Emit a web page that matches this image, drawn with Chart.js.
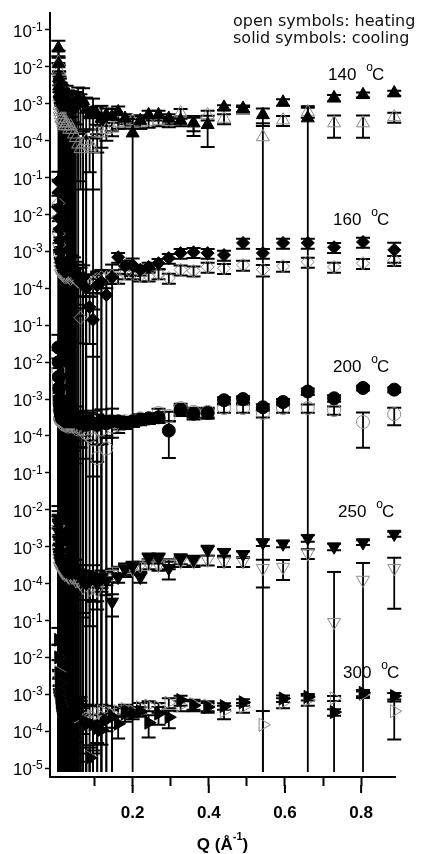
<!DOCTYPE html>
<html>
<head>
<meta charset="utf-8">
<script src="https://cdn.jsdelivr.net/npm/chart.js@4.4.0/dist/chart.umd.min.js"></script>
<style>
  html, body { margin: 0; padding: 0; background: #fff; }
  #marco { width: 421px; height: 854px; }
</style>
</head>
<body>
<div id="marco"><canvas id="grafico" width="421" height="854"></canvas></div>
<script>
// grafico SAXS: 5 paneles apilados (140-300 C), abiertos = calentamiento, llenos = enfriamiento

// Q (1/A)
const qValues = [
  0.005, 0.0057, 0.0064, 0.0072, 0.008, 0.009, 0.010, 0.0112, 0.0125, 0.014,
  0.0156, 0.0174, 0.0194, 0.0216, 0.024, 0.0268, 0.030, 0.0334, 0.037, 0.041,
  0.046, 0.051, 0.057, 0.063, 0.070, 0.078, 0.087, 0.096, 0.107, 0.118,
  0.131, 0.146, 0.162, 0.180, 0.200, 0.220, 0.242, 0.268, 0.295, 0.326,
  0.360, 0.397, 0.440, 0.490, 0.542, 0.595, 0.660, 0.729, 0.805, 0.887
];

const cool140 = [
  3.2e-2, 1.2e-2, 5e-3, 3e-3, 2.5e-3, 2e-3, 1.8e-3, 1.6e-3, 1.5e-3, 1.3e-3,
  1.2e-3, 1.1e-3, 1e-3, 9e-4, 8e-4, 1.4e-3, 1.1e-3, 9e-4, 1e-3, 8e-4,
  9e-4, 1.1e-3, 1.2e-3, 1e-3, 1.2e-3, 7e-4, 5e-4, 6e-4, 5e-4, 4e-4,
  5e-4, 4.5e-4, 6e-4, 4e-4, 1.6e-4, 3.5e-4, 5e-4, 5e-4, 4e-4, 3.5e-4,
  3e-4, 2.7e-4, 8e-4, 7.5e-4, 5e-4, 1.1e-3, 4.1e-4, 1.45e-3, 1.75e-3, 1.95e-3
];
const errCool140 = [
  0.6, 1.3, 1.2, 1.5, 1.2, 1.4, 1.1, 1.3, 1.2, 1.5,
  1.2, 1.3, 1.1, 1.4, 1.2, 1.2, 1.1, 1.3, 1.2, 1.4,
  1.2, 0.9, 1.3, 0.8, 1.2, 1.1, 0.6, 1.3, 0.7, 1.2,
  0.5, 0.6, 0.4, 0.3, 1.4, 0.4, 0.3, 0.3, 0.3, 0.3,
  0.55, 0.75, 0.15, 0.2, 0.5, 0.2, 1.1, 0.2, 0.15, 0.15
];
const heat140 = [
  1.3e-2, 8e-3, 3e-3, 1.5e-3, 9e-4, 7e-4, 6e-4, 5e-4, 4e-4, 4e-4,
  3.5e-4, 3e-4, 3e-4, 2.5e-4, 2.5e-4, 3e-4, 2.5e-4, 2e-4, 2.5e-4, 2e-4,
  1.5e-4, 1.2e-4, 8e-5, 6e-5, 8e-5, 1e-4, 7e-5, 6e-5, 1.6e-4, 1.6e-4,
  2e-4, 2.2e-4, 3e-4, 3e-4, 3.5e-4, 3e-4, 3.2e-4, 3.5e-4, 3.3e-4, 5.6e-4,
  3e-4, 5e-4, 4e-4, 6.8e-4, 1.26e-4, 3.6e-4, 6e-4, 3e-4, 3e-4, 4.4e-4
];
const errHeat140 = [
  0.5, 1.2, 1.5, 1.1, 1.3, 1.2, 1.4, 1.1, 1.3, 1.2,
  1.1, 1.5, 1.2, 1.3, 1.1, 1.3, 1.2, 1.1, 1.4, 1.2,
  1.1, 1.3, 0.9, 0.92, 1.2, 1.0, 0.8, 0.92, 0.7, 0.6,
  0.5, 0.4, 0.3, 0.3, 0.3, 0.3, 0.3, 0.3, 0.3, 0.3,
  0.4, 0.3, 0.3, 0.2, 1.35, 0.3, 0.3, 0.6, 0.6, 0.3
];

const cool160 = [
  8e-2, 4e-2, 1.5e-2, 8e-3, 4e-3, 2e-3, 1e-3, 6e-4, 5e-4, 4e-4,
  4e-4, 3.5e-4, 3e-4, 3e-4, 2.8e-4, 4e-4, 4e-4, 3.5e-4, 3e-4, 3.5e-4,
  3e-4, 2.5e-4, 2e-4, 1.5e-4, 2e-4, 1e-4, 3.1e-5, 1.4e-5, 1.2e-4, 1.5e-4,
  6.6e-5, 2e-4, 7e-4, 4e-4, 4.3e-4, 3.2e-4, 3.8e-4, 4.8e-4, 6.6e-4, 9e-4,
  9.5e-4, 9e-4, 8e-4, 1.7e-3, 9e-4, 1.7e-3, 1.7e-3, 1.3e-3, 1.8e-3, 1.1e-3
];
const errCool160 = [
  0.8, 1.2, 1.5, 1.3, 1.2, 1.1, 1.4, 1.2, 1.3, 1.1,
  1.2, 1.5, 1.1, 1.2, 1.3, 1.2, 1.3, 1.1, 1.4, 1.2,
  1.3, 1.1, 1.2, 1.4, 1.1, 1.3, 0.9, 0.9, 1.2, 1.1,
  1.3, 1.2, 0.3, 0.4, 0.5, 0.3, 0.3, 0.3, 0.3, 0.3,
  0.3, 0.3, 0.3, 0.3, 0.3, 0.3, 0.3, 0.3, 0.3, 0.55
];
const heat160 = [
  2e-2, 8e-3, 3e-3, 1.5e-3, 8e-4, 5e-4, 4e-4, 3.2e-4, 3e-4, 2.8e-4,
  2.5e-4, 2.5e-4, 2.2e-4, 2e-4, 2.2e-4, 2e-4, 2.5e-4, 2e-4, 1.8e-4, 2e-4,
  2e-4, 1.8e-4, 1.5e-4, 1.6e-5, 1.2e-4, 1.5e-4, 1.2e-4, 1.5e-4, 1.8e-4, 2e-4,
  2e-4, 2.2e-4, 1.9e-4, 2.5e-4, 2.5e-4, 2.2e-4, 2.2e-4, 2.5e-4, 1.9e-4, 3.2e-4,
  3e-4, 3.8e-4, 3.5e-4, 4.3e-4, 3.2e-4, 4e-4, 5.2e-4, 3.8e-4, 4.8e-4, 5.8e-4
];
const errHeat160 = [
  0.6, 1.1, 1.2, 1.3, 1.1, 1.2, 1.3, 1.1, 1.2, 1.4,
  1.1, 1.2, 1.3, 1.1, 1.2, 1.1, 1.2, 1.3, 1.1, 1.2,
  0.7, 0.9, 0.6, 0.8, 0.7, 0.6, 0.5, 0.5, 0.6, 0.5,
  0.5, 0.4, 0.3, 0.3, 0.3, 0.3, 0.3, 0.3, 0.3, 0.3,
  0.3, 0.3, 0.3, 0.3, 0.35, 0.3, 0.3, 0.3, 0.3, 0.3
];

const cool200 = [
  2.5e-2, 1e-2, 4e-3, 2e-3, 1e-3, 7e-4, 5e-4, 4e-4, 3.5e-4, 3e-4,
  3e-4, 3e-4, 2.8e-4, 3e-4, 2.5e-4, 3e-4, 2.8e-4, 2.5e-4, 3e-4, 2.5e-4,
  2.5e-4, 3e-4, 2.5e-4, 2.2e-4, 2.5e-4, 2e-4, 2.5e-4, 2.2e-4, 2e-4, 2.5e-4,
  2.2e-4, 2.5e-4, 2.5e-4, 2.2e-4, 2.5e-4, 2.8e-4, 3e-4, 3.2e-4, 1.4e-4, 5e-4,
  4e-4, 4.2e-4, 9.3e-4, 1e-3, 6e-4, 8.3e-4, 1.6e-3, 1.05e-3, 2e-3, 1.8e-3
];
const errCool200 = [
  1.2, 1.1, 1.3, 1.2, 1.4, 1.1, 1.3, 1.2, 1.1, 1.3,
  1.2, 1.1, 1.1, 1.2, 1.2, 1.3, 1.1, 1.2, 1.1, 1.2,
  0.7, 1.1, 0.8, 1.2, 0.6, 1.1, 0.7, 1.2, 0.9, 1.1,
  0.6, 1.2, 0.4, 0.3, 0.3, 0.3, 0.3, 0.3, 0.82, 0.3,
  0.3, 0.3, 0.2, 0.2, 0.2, 0.2, 0.2, 0.2, 0.15, 0.15
];
const heat200 = [
  6e-3, 3e-3, 1.5e-3, 8e-4, 5e-4, 2.9e-4, 3e-4, 2.8e-4, 2.5e-4, 2.5e-4,
  2.5e-4, 2.2e-4, 2.5e-4, 2e-4, 2.2e-4, 2e-4, 1.8e-4, 2e-4, 2.2e-4, 1.8e-4,
  2e-4, 1.8e-4, 1.5e-4, 1.6e-4, 1.5e-4, 1.2e-4, 1e-4, 8e-5, 2.5e-5, 1.5e-4,
  4.6e-5, 1.8e-4, 2e-4, 2.5e-4, 2.5e-4, 3e-4, 3e-4, 4.2e-4, 3.5e-4, 5.7e-4,
  4.5e-4, 4.5e-4, 5.7e-4, 5.7e-4, 4.2e-4, 5.7e-4, 5.7e-4, 5e-4, 2.4e-4, 3.9e-4
];
const errHeat200 = [
  1.1, 1.3, 1.2, 1.1, 1.4, 1.2, 1.1, 1.3, 1.2, 1.1,
  1.2, 1.1, 1.2, 1.3, 1.1, 1.1, 1.2, 1.2, 1.1, 1.1,
  0.8, 0.9, 1.1, 0.7, 1.2, 0.8, 1.1, 0.9, 1.3, 0.6,
  1.2, 0.5, 0.4, 0.3, 0.3, 0.3, 0.3, 0.3, 0.3, 0.3,
  0.3, 0.3, 0.25, 0.25, 0.25, 0.25, 0.25, 0.25, 0.8, 0.5
];

const cool250 = [
  6e-3, 4e-3, 2.5e-3, 1.5e-3, 1e-3, 7e-4, 5e-4, 4e-4, 3.5e-4, 3e-4,
  3e-4, 2.8e-4, 2.5e-4, 2.5e-4, 2.2e-4, 2.5e-4, 2.2e-4, 2e-4, 2.2e-4, 2e-4,
  2.5e-4, 2e-4, 2e-4, 1.5e-4, 1.2e-4, 1e-4, 1.2e-4, 1.5e-4, 1e-4, 1.5e-4,
  1.2e-4, 3.2e-5, 1.5e-4, 2.5e-4, 3e-4, 1.5e-4, 5e-4, 5e-4, 2.6e-4, 4.8e-4,
  4.4e-4, 8.1e-4, 7.1e-4, 6.2e-4, 1.3e-3, 1.2e-3, 1.7e-3, 1e-3, 1.3e-3, 2.2e-3
];
const errCool250 = [
  1.1, 1.3, 1.2, 1.4, 1.1, 1.2, 1.3, 1.1, 1.2, 1.4,
  1.1, 1.2, 1.1, 1.3, 1.2, 1.1, 1.1, 1.2, 1.1, 1.1,
  0.8, 1.2, 0.6, 1.1, 0.9, 1.2, 0.7, 1.1, 0.8, 0.5,
  0.6, 0.6, 0.3, 0.4, 0.3, 0.3, 0.3, 0.3, 0.5, 0.3,
  0.3, 0.3, 0.2, 0.2, 0.2, 0.2, 0.2, 0.2, 0.15, 0.15
];
const heat250 = [
  3e-3, 1.5e-3, 8e-4, 5e-4, 4e-4, 3e-4, 2.8e-4, 2.5e-4, 2.5e-4, 2.2e-4,
  2.2e-4, 2e-4, 2e-4, 1.8e-4, 2e-4, 1.8e-4, 1.6e-4, 1.5e-4, 1.8e-4, 1.5e-4,
  1.5e-4, 1.2e-4, 1.2e-4, 1e-4, 8e-5, 1e-4, 7e-5, 8e-5, 6.7e-5, 1.2e-4,
  1.5e-4, 1.8e-4, 2.2e-4, 2.5e-4, 2.5e-4, 3e-4, 3.5e-4, 3.2e-4, 3.5e-4, 4e-4,
  4e-4, 4.4e-4, 4e-4, 4e-4, 2.6e-4, 2.8e-4, 6.6e-4, 9e-6, 1.25e-4, 2.6e-4
];
const errHeat250 = [
  1.2, 1.1, 1.3, 1.2, 1.1, 1.4, 1.2, 1.1, 1.3, 1.2,
  1.1, 1.1, 1.2, 1.1, 1.1, 1.2, 1.2, 1.1, 1.1, 1.2,
  0.9, 1.1, 0.7, 1.2, 0.8, 1.1, 0.9, 0.6, 0.5, 0.5,
  0.4, 0.4, 0.3, 0.3, 0.3, 0.3, 0.3, 0.3, 0.3, 0.3,
  0.3, 0.3, 0.3, 0.3, 0.7, 0.55, 0.3, 22, 1.9, 0.92
];

const cool300 = [
  3e-2, 1e-2, 3.7e-3, 2e-3, 1.2e-3, 8e-4, 6e-4, 5e-4, 4e-4, 3.5e-4,
  3e-4, 3e-4, 2.5e-4, 2e-4, 1.5e-4, 1.2e-4, 1.5e-4, 2e-4, 3e-4, 4e-4,
  3e-4, 2.5e-4, 3.5e-4, 5e-4, 2e-4, 1.5e-4, 1.9e-5, 1.5e-4, 1.2e-4, 1.07e-4,
  2e-4, 2.5e-4, 1.6e-4, 3e-4, 3e-4, 3.5e-4, 1.7e-4, 3e-4, 2.4e-4, 7e-4,
  5e-4, 4.5e-4, 4.8e-4, 6.1e-4, null, 7.7e-4, 8.5e-4, 3.3e-4, 1.1e-3, 9e-4
];
const errCool300 = [
  1.1, 1.2, 1.3, 1.1, 1.4, 1.2, 1.1, 1.3, 1.2, 1.1,
  1.2, 1.1, 1.1, 1.3, 1.1, 1.2, 1.1, 1.2, 1.2, 1.1,
  1.1, 0.8, 1.2, 0.7, 1.1, 0.9, 1.2, 0.8, 0.6, 0.6,
  0.5, 0.5, 0.6, 0.4, 0.3, 0.3, 0.6, 0.5, 0.5, 0.3,
  0.3, 0.3, 0.2, 0.2, 0, 0.2, 0.2, 0.2, 0.2, 0.2
];
const heat300 = [
  1e-2, 4e-3, 2e-3, 1.2e-3, 8e-4, 6e-4, 5e-4, 4.5e-4, 4e-4, 3.5e-4,
  3.5e-4, 3e-4, 3e-4, 2.8e-4, 2.5e-4, 2.5e-4, 2.8e-4, 3e-4, 2.5e-4, 3e-4,
  3.5e-4, 3e-4, 2.5e-4, 3e-4, 2.8e-4, 2.5e-4, 2e-5, 2.5e-4, 3e-4, 3.5e-4,
  3.5e-4, 3e-4, 3.5e-4, 4e-4, 3.5e-4, 4.5e-4, 5e-4, 4.5e-4, 6e-4, 5e-4,
  5.5e-4, 5e-4, 3.5e-4, 4.5e-4, 1.5e-4, 6e-4, 7e-4, 7.8e-4, 1e-3, 3.5e-4
];
const errHeat300 = [
  1.2, 1.1, 1.3, 1.2, 1.1, 1.3, 1.2, 1.1, 1.4, 1.2,
  1.1, 1.2, 1.1, 1.1, 1.2, 1.2, 1.1, 1.1, 1.2, 1.2,
  0.8, 1.1, 0.9, 1.2, 0.7, 1.1, 0.8, 0.9, 0.6, 0.5,
  0.4, 0.3, 0.3, 0.3, 0.3, 0.3, 0.3, 0.3, 0.3, 0.3,
  0.3, 0.3, 0.4, 0.3, 1.35, 0.3, 0.3, 0.15, 0.2, 0.83
];

// cada panel baja 4 decadas
const panelShift = [1, 1e-4, 1e-8, 1e-12, 1e-16];
const panelNames = ['140', '160', '200', '250', '300'];

// ejes
const yTickExps = [-1, -2, -3, -4, -5, -6, -7, -8, -9, -10, -11, -12, -13, -14, -15, -16, -17, -18, -19, -20, -21];
const yTickLabels = ['-1', '-2', '-3', '-4', '-1', '-2', '-3', '-4', '-1', '-2', '-3', '-4',
  '-1', '-2', '-3', '-4', '-1', '-2', '-3', '-4', '-5'];
const xTickValues = [0.1, 0.2, 0.3, 0.4, 0.5, 0.6, 0.7, 0.8];
const xTickLabels = ['', '0.2', '', '0.4', '', '0.6', '', '0.8'];

const paneles = [
  { heat: heat140, eh: errHeat140, cool: cool140, ec: errCool140, forma: 'triangle', giro: 0, radio: 7.5 },
  { heat: heat160, eh: errHeat160, cool: cool160, ec: errCool160, forma: 'rectRot', giro: 0, radio: 6.5 },
  { heat: heat200, eh: errHeat200, cool: cool200, ec: errCool200, forma: 'circle', giro: 0, radio: 6.5 },
  { heat: heat250, eh: errHeat250, cool: cool250, ec: errCool250, forma: 'triangle', giro: 180, radio: 7.5 },
  { heat: heat300, eh: errHeat300, cool: cool300, ec: errCool300, forma: 'triangle', giro: 90, radio: 7.5 }
];

// posicion de las etiquetas de temperatura (px)
const etiquetasPos = [[328, 80], [333, 225], [333, 372], [338, 517], [343, 678]];

const fuente = '"Liberation Sans", Arial, sans-serif';

function puntos(valores, errores, escala) {
  const out = [];
  valores.forEach((v, i) => {
    if (v === null) return;
    out.push({ x: qValues[i], y: v * escala, e: errores[i] });
  });
  return out;
}

const datasets = [];
paneles.forEach((p, k) => {
  datasets.push({
    label: panelNames[k] + ' heating',
    data: puntos(p.heat, p.eh, panelShift[k]),
    pointStyle: p.forma,
    pointRotation: p.giro,
    pointRadius: p.radio,
    pointBackgroundColor: 'rgba(0,0,0,0)',
    pointBorderColor: '#8a8a8a',
    pointBorderWidth: 1,
    clip: false,
    order: 2
  });
  datasets.push({
    label: panelNames[k] + ' cooling',
    data: puntos(p.cool, p.ec, panelShift[k]),
    pointStyle: p.forma,
    pointRotation: p.giro,
    pointRadius: p.radio,
    pointBackgroundColor: '#000',
    pointBorderColor: '#000',
    pointBorderWidth: 1,
    clip: false,
    order: 1
  });
});

// barras de error (debajo de los simbolos)
const barrasError = {
  id: 'barrasError',
  beforeDatasetsDraw(chart) {
    const { ctx, chartArea } = chart;
    const x = chart.scales.x, y = chart.scales.y;
    const fondo = chartArea.bottom - 5;
    ctx.save();
    ctx.beginPath();
    ctx.rect(chartArea.left + 1, chartArea.top, chartArea.right - chartArea.left + 15, chartArea.bottom - chartArea.top);
    ctx.clip();
    ctx.strokeStyle = '#000';
    chart.data.datasets.forEach(ds => {
      ds.data.forEach(p => {
        if (!p.e) return;
        const px = x.getPixelForValue(p.x);
        const hi = y.getPixelForValue(p.y * (1 + p.e));
        const bajo = p.y * (1 - p.e);
        const lo = bajo > 0 ? Math.min(y.getPixelForValue(bajo), fondo) : fondo;
        ctx.lineWidth = 1.8;
        ctx.beginPath();
        ctx.moveTo(px, hi);
        ctx.lineTo(px, lo);
        ctx.stroke();
        ctx.lineWidth = 2;
        ctx.beginPath();
        ctx.moveTo(px - 7, hi);
        ctx.lineTo(px + 7, hi);
        if (bajo > 0 && lo < fondo) {
          ctx.moveTo(px - 7, lo);
          ctx.lineTo(px + 7, lo);
        }
        ctx.stroke();
      });
    });
    ctx.restore();
  }
};

// textos: etiquetas del eje y, titulo, temperaturas, leyenda
const textos = {
  id: 'textos',
  afterDraw(chart) {
    const { ctx, chartArea } = chart;
    const x = chart.scales.x, y = chart.scales.y;
    ctx.save();
    ctx.fillStyle = '#000';
    ctx.textBaseline = 'alphabetic';

    yTickExps.forEach((e, i) => {
      const py = y.getPixelForValue(Math.pow(10, e));
      ctx.font = '17px ' + fuente;
      ctx.textAlign = 'right';
      ctx.fillText('10', 32, py + 7);
      ctx.font = '12px ' + fuente;
      ctx.textAlign = 'left';
      ctx.fillText(yTickLabels[i], 32, py + 1);
    });

    // marcas mayores mas largas
    ctx.strokeStyle = '#000';
    ctx.lineWidth = 2;
    xTickValues.forEach((v, i) => {
      if (!xTickLabels[i]) return;
      const px = x.getPixelForValue(v);
      ctx.beginPath();
      ctx.moveTo(px, chartArea.bottom + 8);
      ctx.lineTo(px, chartArea.bottom + 16);
      ctx.stroke();
    });

    // titulo eje x
    const cx = (chartArea.left + chartArea.right) / 2;
    ctx.font = 'bold 17px ' + fuente;
    const w1 = ctx.measureText('Q (Å').width;
    const w3 = ctx.measureText(')').width;
    ctx.font = 'bold 11px ' + fuente;
    const w2 = ctx.measureText('-1').width;
    let x0 = cx - (w1 + w2 + w3) / 2;
    ctx.textAlign = 'left';
    ctx.font = 'bold 17px ' + fuente;
    ctx.fillText('Q (Å', x0, 850);
    ctx.font = 'bold 11px ' + fuente;
    ctx.fillText('-1', x0 + w1, 840);
    ctx.font = 'bold 17px ' + fuente;
    ctx.fillText(')', x0 + w1 + w2, 850);

    // temperaturas
    panelNames.forEach((t, k) => {
      const [tx, ty] = etiquetasPos[k];
      ctx.font = '17px ' + fuente;
      ctx.fillText(t, tx, ty);
      const xo = tx + ctx.measureText(t).width + 10;
      ctx.font = '12px ' + fuente;
      ctx.fillText('o', xo, ty - 9);
      const xc = xo + ctx.measureText('o').width - 1;
      ctx.font = '17px ' + fuente;
      ctx.fillText('C', xc, ty);
    });

    // leyenda
    ctx.font = '16px "DejaVu Sans", sans-serif';
    ctx.fillStyle = '#111';
    ctx.fillText('open symbols: heating', 233, 26);
    ctx.fillText('solid symbols: cooling', 233, 43);
    ctx.restore();
  }
};

new Chart(document.getElementById('grafico').getContext('2d'), {
  type: 'scatter',
  data: { datasets: datasets },
  options: {
    responsive: false,
    animation: false,
    events: [],
    layout: { padding: { top: 13, right: 26, left: 0, bottom: 0 } },
    plugins: { legend: { display: false }, tooltip: { enabled: false } },
    scales: {
      x: {
        type: 'linear',
        min: -0.017,
        max: 0.889,
        afterBuildTicks: axis => { axis.ticks = xTickValues.map(v => ({ value: v })); },
        afterFit: axis => { axis.height = 77; },
        ticks: {
          autoSkip: false,
          maxRotation: 0,
          minRotation: 0,
          padding: 17,
          color: '#000',
          font: { family: 'Liberation Sans', size: 17, weight: 'bold' },
          callback: (value, index) => xTickLabels[index]
        },
        grid: { drawOnChartArea: false, tickLength: 9, tickWidth: 2, tickColor: '#000' },
        border: { display: true, color: '#000', width: 2 }
      },
      y: {
        type: 'logarithmic',
        min: Math.pow(10, -21.24),
        max: Math.pow(10, -0.54),
        afterBuildTicks: axis => { axis.ticks = yTickExps.map(e => ({ value: Math.pow(10, e) })); },
        afterFit: axis => { axis.width = 50; },
        ticks: { display: false },
        grid: { drawOnChartArea: false, tickLength: 5, tickWidth: 1.5, tickColor: '#000' },
        border: { display: true, color: '#000', width: 2 }
      }
    }
  },
  plugins: [barrasError, textos]
});
</script>
</body>
</html>
